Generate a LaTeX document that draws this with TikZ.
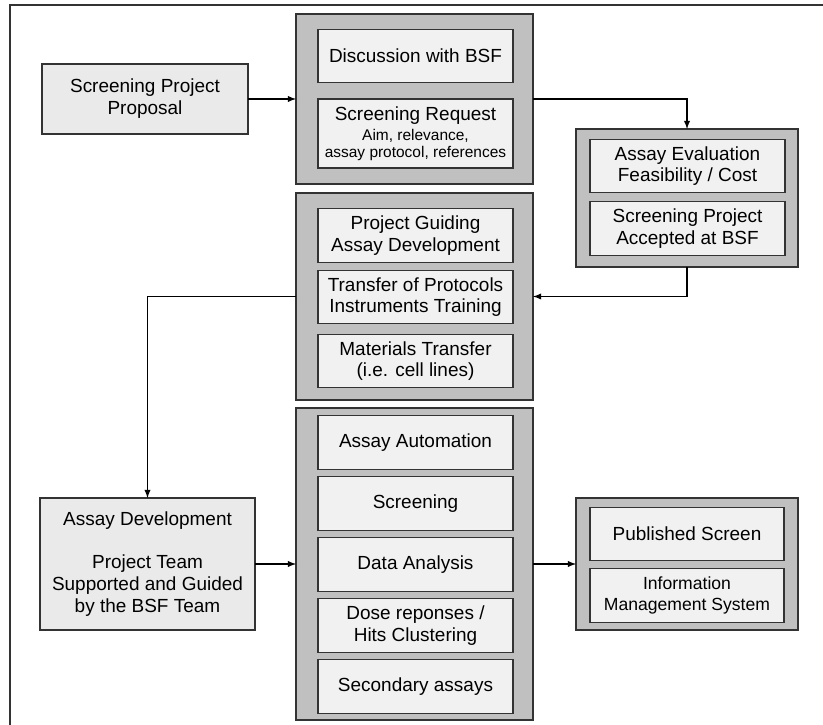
\documentclass[tikz,border=0pt]{standalone}
\usepackage{fontspec}
\setmainfont{Liberation Sans}
\usepackage{tikz}

\definecolor{grpgray}{HTML}{C0C0C0}
\definecolor{boxgray}{HTML}{F1F1F1}
\definecolor{leadgray}{HTML}{EAEAEA}
\definecolor{edgegray}{HTML}{333333}

\begin{document}
\begin{tikzpicture}[every node/.style={outer sep=0pt, inner sep=0pt, align=center, font=\fontsize{10.8}{12.4}\selectfont},
  grp/.style={draw=edgegray, line width=0.85pt, fill=grpgray},
  item/.style={draw=edgegray, line width=0.6pt, fill=boxgray, minimum width=3.9cm, minimum height=1.07cm},
  lone/.style={draw=edgegray, line width=0.6pt, fill=leadgray},
  flow/.style={-latex, line width=0.6pt, color=black}]
\useasboundingbox (0,0) rectangle (16.46,14.5);
\clip (0,0) rectangle (16.46,14.5);
\draw[line width=1.1pt, color=edgegray] (0.2,-0.5) -- (0.2,14.4) -- (17,14.4);

% request stage
\node[lone, minimum width=4.12cm, minimum height=1.4cm] (proposal) at (2.9,12.52) {Screening Project\\Proposal};
\node[grp, minimum width=4.74cm, minimum height=3.4cm] (request) at (8.29,12.52) {};
\node[item] (discussion) at (8.31,13.38) {Discussion with BSF};
\node[item, minimum height=1.38cm] (demand) at (8.31,11.83) {Screening Request\\[-1pt]{\fontsize{8.8}{9.8}\selectfont Aim, relevance,}\\[-2.5pt]{\fontsize{8.8}{9.8}\selectfont assay protocol, references}};

% evaluation stage
\node[grp, minimum width=4.44cm, minimum height=2.76cm] (evaluation) at (13.74,10.54) {};
\node[item] (feasibility) at (13.75,11.18) {Assay Evaluation\\Feasibility / Cost};
\node[item] (accepted) at (13.75,9.93) {Screening Project\\Accepted at BSF};

% transfer stage
\node[grp, minimum width=4.74cm, minimum height=4.14cm] (transfer) at (8.29,8.57) {};
\node[item] (guiding) at (8.31,9.79) {Project Guiding\\Assay Development};
\node[item] (protocols) at (8.31,8.56) {Transfer of Protocols\\Instruments Training};
\node[item] (materials) at (8.31,7.28) {Materials Transfer\\(i.e. cell lines)};

% development
\node[lone, minimum width=4.3cm, minimum height=2.64cm] (development) at (2.95,3.22) {Assay Development\\[12.4pt]Project Team\\Supported and Guided\\by the BSF Team};

% screening stage
\node[grp, minimum width=4.74cm, minimum height=6.24cm] (screen) at (8.29,3.22) {};
\node[item] (automation) at (8.31,5.65) {Assay Automation};
\node[item] (screening) at (8.31,4.43) {Screening};
\node[item] (analysis) at (8.31,3.21) {Data Analysis};
\node[item] (dose) at (8.31,1.99) {Dose reponses /\\Hits Clustering};
\node[item] (secondary) at (8.31,0.77) {Secondary assays};

% output stage
\node[grp, minimum width=4.44cm, minimum height=2.64cm] (output) at (13.74,3.22) {};
\node[item, minimum width=3.88cm] (published) at (13.74,3.82) {Published Screen};
\node[item, minimum width=3.88cm] (ims) at (13.74,2.59) {{\fontsize{10}{11.8}\selectfont Information}\\{\fontsize{10}{11.8}\selectfont Management System}};

\draw[flow] (proposal) -- (request);
\draw[flow] (request.east) -| (evaluation.north);
\draw[flow] (evaluation.south) |- (transfer.east);
\draw[flow] (transfer.west) -| (development.north);
\draw[flow] (development) -- (screen);
\draw[flow] (screen) -- (output);
\end{tikzpicture}
\end{document}
